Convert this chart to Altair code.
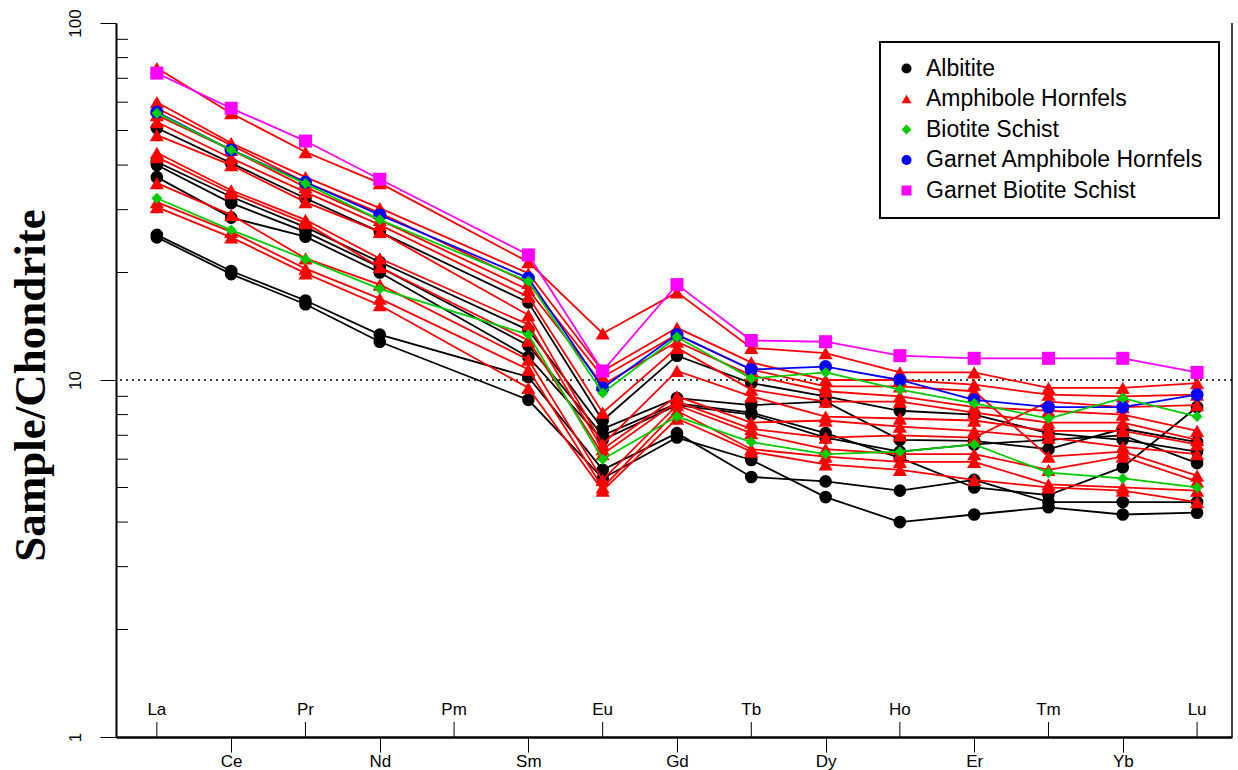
import altair as alt
import pandas as pd

# ---------------- data ----------------
elements = ["La", "Ce", "Pr", "Nd", "Pm", "Sm", "Eu", "Gd", "Tb", "Dy", "Ho", "Er", "Tm", "Yb", "Lu"]
plotted = ["La", "Ce", "Pr", "Nd", "Sm", "Eu", "Gd", "Tb", "Dy", "Ho", "Er", "Tm", "Yb", "Lu"]

rock_types = ["Albitite", "Amphibole Hornfels", "Biotite Schist",
              "Garnet Amphibole Hornfels", "Garnet Biotite Schist"]
rock_colors = ["#000000", "#ff0000", "#00cd00", "#0000ff", "#ff00ff"]
rock_shapes = ["circle", "triangle-up", "diamond", "circle", "square"]
rock_sizes = [160, 200, 120, 170, 170]
draw_order = ["Albitite", "Amphibole Hornfels", "Garnet Amphibole Hornfels",
              "Biotite Schist", "Garnet Biotite Schist"]

albitite = [
    [50.8, 40.5, 32.3, 26.0, 16.5, 7.7, 11.7, 9.8, 9.0, 8.2, 8.0, 7.1, 6.8, 6.3],
    [40.8, 32.6, 26.8, 21.4, 13.8, 7.3, 8.9, 8.5, 8.7, 6.8, 6.75, 6.4, 7.3, 6.7],
    [40.0, 31.3, 26.0, 20.7, 12.5, 7.0, 8.6, 8.1, 7.1, 6.05, 5.0, 4.76, 5.7, 8.4],
    [37.0, 28.5, 25.2, 20.0, 11.6, 6.8, 8.5, 8.0, 6.9, 6.3, 6.6, 6.8, 7.0, 5.85],
    [25.5, 20.2, 16.7, 13.4, 10.2, 5.6, 7.1, 5.35, 5.2, 4.9, 5.25, 4.55, 4.55, 4.55],
    [25.1, 19.8, 16.3, 12.8, 8.8, 5.3, 6.9, 5.97, 4.7, 4.0, 4.2, 4.4, 4.2, 4.25],
]
amphibole_hornfels = [
    [74.8, 55.9, 43.5, 35.6, 21.4, 13.5, 17.6, 12.3, 11.9, 10.5, 10.5, 9.5, 9.5, 9.8],
    [60.0, 46.1, 37.0, 30.3, 19.9, 10.6, 14.0, 11.2, 10.0, 10.0, 9.7, 9.1, 9.0, 9.1],
    [57.7, 45.5, 35.8, 29.4, 18.7, 10.2, 13.4, 10.7, 9.6, 9.6, 9.3, 6.1, 6.3, 5.4],
    [55.2, 44.1, 34.7, 28.1, 17.9, 9.7, 12.8, 10.3, 9.3, 9.0, 8.4, 8.2, 8.0, 7.2],
    [52.8, 41.8, 33.6, 27.2, 17.1, 8.1, 12.3, 9.4, 8.7, 8.7, 8.1, 7.6, 7.6, 6.8],
    [48.5, 40.0, 31.5, 26.0, 15.2, 6.6, 10.6, 9.0, 7.9, 7.8, 7.7, 7.2, 7.2, 6.6],
    [43.3, 34.0, 28.1, 21.9, 14.3, 6.4, 9.0, 7.6, 7.7, 7.4, 7.2, 6.9, 6.5, 6.2],
    [42.1, 33.4, 27.5, 20.7, 12.9, 6.2, 8.7, 7.3, 6.9, 7.0, 6.9, 8.7, 8.4, 8.5],
    [35.6, 29.0, 21.9, 18.5, 11.4, 5.25, 8.5, 7.1, 6.4, 6.2, 6.2, 5.6, 6.1, 5.2],
    [31.5, 26.0, 20.5, 16.9, 10.7, 5.0, 8.2, 6.4, 6.1, 5.9, 5.9, 5.1, 5.0, 4.9],
    [30.5, 25.1, 19.9, 16.2, 9.5, 4.9, 7.8, 6.3, 5.8, 5.6, 5.25, 5.0, 4.9, 4.55],
]
biotite_schist = [
    [55.9, 44.1, 35.5, 28.1, 18.9, 9.2, 13.2, 10.1, 10.5, 9.4, 8.6, 7.8, 8.9, 7.9],
    [32.3, 26.3, 21.8, 18.0, 13.4, 6.0, 7.9, 6.7, 6.2, 6.3, 6.6, 5.5, 5.3, 5.0],
]
garnet_amphibole_hornfels = [
    [56.3, 44.1, 35.8, 29.0, 19.3, 9.5, 13.4, 10.7, 10.9, 10.0, 8.8, 8.4, 8.4, 9.1],
]
garnet_biotite_schist = [
    [72.4, 57.7, 46.7, 36.5, 22.4, 10.6, 18.5, 12.9, 12.8, 11.7, 11.5, 11.5, 11.5, 10.5],
]

groups = [albitite, amphibole_hornfels, biotite_schist,
          garnet_amphibole_hornfels, garnet_biotite_schist]

y_major = [1, 10, 100]
y_minor = [2, 3, 4, 5, 6, 7, 8, 9, 20, 30, 40, 50, 60, 70, 80, 90]
reference_level = [10]

# ---------------- tables ----------------
rows = []
for rock, samples in zip(rock_types, groups):
    for s_i, vals in enumerate(samples):
        for el, v in zip(plotted, vals):
            rows.append({"rock": rock, "sample": f"{rock}-{s_i}",
                         "element": el, "idx": elements.index(el), "value": v})
df = pd.DataFrame(rows)

upper_ticks = pd.DataFrame({"idx": list(range(0, 15, 2)),
                            "name": [elements[i] for i in range(0, 15, 2)]})
minor_df = pd.DataFrame({"v": y_minor})
ref_df = pd.DataFrame({"v": reference_level})

W, H = 1116, 714
label_font = "Liberation Sans Narrow, Liberation Sans, Arial"
label_expr = "[" + ",".join(f"'{e}'" for e in elements) + "][datum.value]"

x_scale = alt.Scale(domain=[-0.55, 14.47], nice=False, zero=False)
y_scale = alt.Scale(type="log", domain=[1, 100], nice=False)

x_enc = alt.X("idx:Q", scale=x_scale,
              axis=alt.Axis(values=list(range(1, 15, 2)), labelExpr=label_expr, title=None,
                            grid=False, tickSize=15, tickColor="black", tickWidth=1,
                            domainColor="black", domainWidth=2.5, labelFontSize=17,
                            labelFont=label_font, labelColor="black", labelPadding=1,
                            labelFlush=False))
y_enc = alt.Y("value:Q", scale=y_scale,
              axis=alt.Axis(values=y_major, format="d", grid=False, tickSize=16,
                            tickColor="black", tickWidth=1, domainColor="black",
                            domainWidth=2, labelAngle=270, labelAlign="center",
                            labelBaseline="bottom", labelPadding=16, labelFontSize=17,
                            labelFont=label_font, labelColor="black",
                            title="Sample/Chondrite", titleFont="Liberation Serif",
                            titleFontWeight="bold", titleFontSize=45, titleColor="black",
                            titleAngle=270, titleX=-86, titleY=362, titleAlign="center",
                            titleBaseline="middle"))

legend = alt.Legend(title=None)
color_enc = alt.Color("rock:N", scale=alt.Scale(domain=rock_types, range=rock_colors), legend=legend)
shape_enc = alt.Shape("rock:N", scale=alt.Scale(domain=rock_types, range=rock_shapes), legend=legend)

layers = []

ref_line = alt.Chart(ref_df).mark_rule(color="black", strokeDash=[2, 4], strokeWidth=1.5).encode(
    y=alt.Y("v:Q", scale=y_scale))
layers.append(ref_line)

base = alt.Chart(df)
for rock in draw_order:
    k = rock_types.index(rock)
    col, size = rock_colors[k], rock_sizes[k]
    sub = base.transform_filter(alt.datum.rock == rock)
    line = sub.mark_line(color=col, strokeWidth=1.8).encode(
        x=x_enc, y=y_enc, detail="sample:N", order="idx:Q")
    pts = sub.mark_point(filled=True, opacity=1, size=size).encode(
        x=x_enc, y=y_enc, color=color_enc, shape=shape_enc)
    layers += [line, pts]

minor = alt.Chart(minor_df).mark_rule(color="black", strokeWidth=1).encode(
    y=alt.Y("v:Q", scale=y_scale), x=alt.value(0), x2=alt.value(12))
up_rules = alt.Chart(upper_ticks).mark_rule(color="black", strokeWidth=1).encode(
    x=alt.X("idx:Q", scale=x_scale), y=alt.value(H - 15), y2=alt.value(H))
up_text = alt.Chart(upper_ticks).mark_text(fontSize=17, font=label_font, color="black",
                                           baseline="middle").encode(
    x=alt.X("idx:Q", scale=x_scale), y=alt.value(H - 27), text="name:N")
right_border = alt.Chart(ref_df).mark_rule(color="black", strokeWidth=1.5).encode(
    x=alt.value(W), y=alt.value(0), y2=alt.value(H))
layers += [minor, up_rules, up_text, right_border]

chart = alt.layer(*layers).properties(
    width=W, height=H,
    autosize=alt.AutoSizeParams(type="none"),
    padding={"left": 116, "top": 23, "right": 6, "bottom": 33},
    background="white",
).configure_view(stroke=None).configure_legend(
    orient="none", legendX=764, legendY=19, padding=15,
    strokeColor="black", strokeWidth=2, fillColor="white",
    labelFontSize=23, labelFont="Liberation Sans", labelColor="black",
    symbolSize=100, rowPadding=6.5, labelOffset=8, symbolStrokeWidth=0,
    labelLimit=400,
)

chart.save("out.html", embed_options={"renderer": "svg", "actions": False})
